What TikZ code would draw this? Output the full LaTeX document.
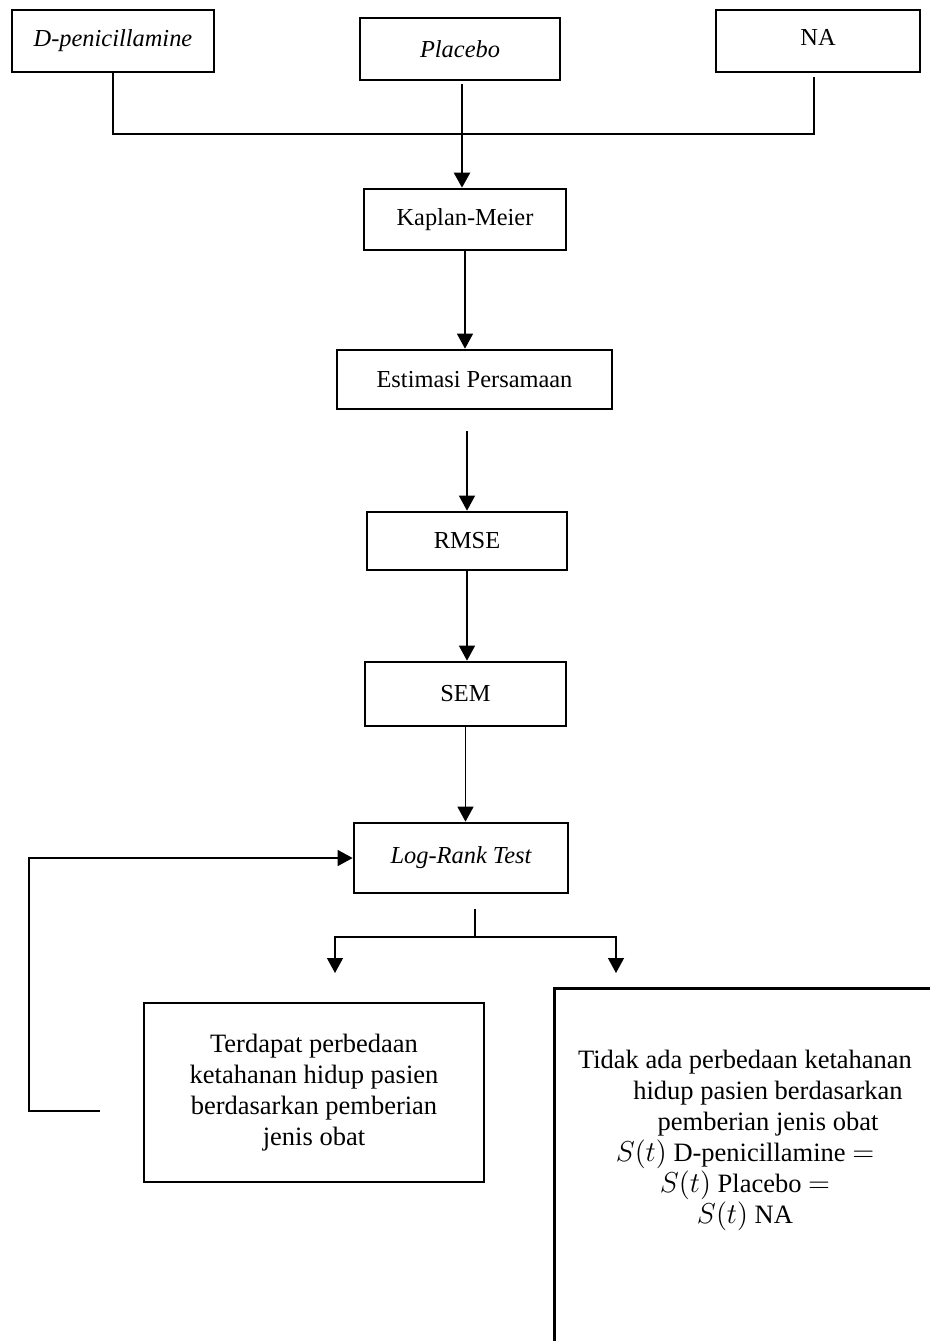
\documentclass[tikz,border=0pt]{standalone}
\usepackage{fontspec}
\setmainfont{Liberation Serif}
\usetikzlibrary{arrows.meta}
\tikzset{
  box/.style={draw, line width=1.35pt, inner sep=0pt, align=center, font=\fontsize{12.2}{14}\selectfont},
  bigbox/.style={draw, line width=1.35pt, inner sep=0pt, align=center, font=\fontsize{13.25}{15.5}\selectfont},
  txt/.style={inner sep=0pt, align=center, font=\fontsize{13.25}{15.5}\selectfont},
  conn/.style={line width=0.65pt},
  arr/.style={line width=0.65pt, -{Triangle[length=7.5pt,width=8pt]}},
  thickarr/.style={line width=1.2pt, -{Triangle[length=7.5pt,width=8pt]}}
}
\begin{document}
\begin{tikzpicture}[x=0.5pt,y=-0.5pt]
\useasboundingbox (0,0) rectangle (930,1341);
% top row
\node[box, minimum width=101pt, minimum height=31pt] (dpen) at (113,41) {\itshape D-penicillamine};
\node[box, minimum width=100pt, minimum height=31pt] (plac) at (460,49) {\itshape Placebo};
\node[box, minimum width=102pt, minimum height=31pt] (na) at (818,41) {\raisebox{4pt}{NA}};
% spine
\node[box, minimum width=101pt, minimum height=30.5pt] (km) at (465,219.5) {Kaplan-Meier};
\node[box, minimum width=137.5pt, minimum height=29.5pt] (est) at (474.5,379.5) {Estimasi Persamaan};
\node[box, minimum width=100pt, minimum height=29pt] (rmse) at (467,541) {RMSE};
\node[box, minimum width=100.5pt, minimum height=32pt] (sem) at (465.5,694) {SEM};
\node[box, minimum width=107pt, minimum height=35pt] (lr) at (461,858) {\itshape Log-Rank Test};
% outcomes
\node[bigbox, minimum width=170pt, minimum height=89.5pt] (terd) at (314,1092.5)
  {Terdapat perbedaan\\ketahanan hidup pasien\\berdasarkan pemberian\\jenis obat};
\node[draw, line width=1.35pt, inner sep=0pt, anchor=north west, minimum width=203.5pt, minimum height=196.5pt] (tidak) at (553,987) {};
\node[txt] (tidaktxt) at (745,1140)
  {Tidak ada perbedaan ketahanan\\
   \hspace*{23pt}hidup pasien berdasarkan\\
   \hspace*{23pt}pemberian jenis obat\\
   $S(t)$ D-penicillamine $=$\\
   $S(t)$ Placebo $=$\\
   $S(t)$ NA};
% top connectors
\coordinate (j) at (462,134);
\draw[conn] (dpen.south) |- (j);
\draw[conn] ([xshift=-2pt,yshift=-2pt]na.south) |- (j);
\draw[conn] ([yshift=-1.5pt]plac.south -| j) -- (j);
\draw[thickarr] (j) -- (j |- km.north);
% spine arrows
\draw[arr] (km.south) -- (km.south |- est.north);
\draw[arr] ([yshift=-10.5pt]rmse.north |- est.south) -- (rmse.north);
\draw[arr] (rmse.south) -- (rmse.south |- sem.north);
\draw[arr] (sem.south) -- (sem.south |- lr.north);
% split
\coordinate (split) at (475,937);
\coordinate (tl) at (335,973);
\coordinate (tr) at (616,973);
\draw[conn] ([yshift=-7.5pt]split |- lr.south) -- (split);
\draw[arr] (split) -| (tl);
\draw[arr] (split) -| (tr);
% feedback
\coordinate (fb) at (100,1111);
\draw[arr] (fb) -- (29,1111) |- (lr.west);
\end{tikzpicture}
\end{document}
